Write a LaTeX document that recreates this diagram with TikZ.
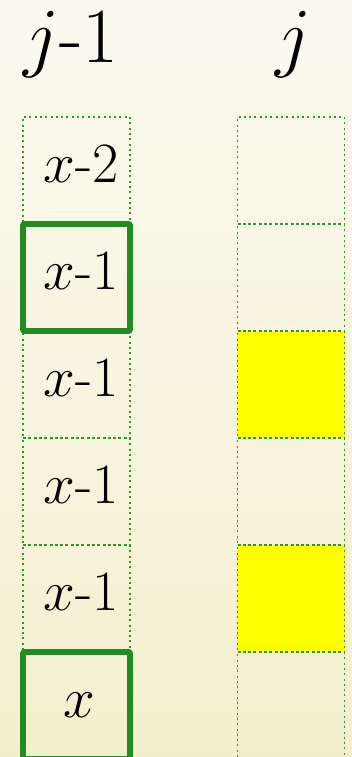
\RequirePackage{fix-cm}
\documentclass[tikz,border=0pt]{standalone}
\begin{document}
\definecolor{bgtop}{RGB}{251,250,240}
\definecolor{bgbot}{RGB}{243,239,206}
\definecolor{gr}{RGB}{34,139,34}
\definecolor{dotgr}{RGB}{45,150,45}
\definecolor{yel}{RGB}{255,255,0}
\begin{tikzpicture}[x=1pt,y=-1pt,
  cell/.style={draw=dotgr, line width=1.2pt, dash pattern=on 2pt off 3.3pt,
    minimum width=107pt, minimum height=107pt, inner sep=0pt, outer sep=0pt},
  lab/.style={anchor=base, inner sep=0pt, font=\fontsize{57}{57}\selectfont},
  hot/.style={draw=gr, line width=5.8pt, line join=round, rounded corners=1pt},
  hilite/.style={fill=yel},
  head/.style={anchor=base, inner sep=0pt, font=\fontsize{78}{78}\selectfont}]
\useasboundingbox (0,0) rectangle (352,757);
\shade[top color=bgtop, bottom color=bgbot] (0,0) rectangle (352,757);
% headers
\node[head] (hL) at (71,63) {$j$-1};
\node[head] (hR) at (293,63) {$j$};
% right column highlight fills
\fill[hilite] (237.5,331) rectangle (344.5,438);
\fill[hilite] (237.5,545) rectangle (344.5,652);
% left column
\node[cell] (L0) at (76.5,170.5) {};
\node[cell] (L1) at (76.5,277.5) {};
\node[cell] (L2) at (76.5,384.5) {};
\node[cell] (L3) at (76.5,491.5) {};
\node[cell] (L4) at (76.5,598.5) {};
\node[cell] (L5) at (76.5,705.5) {};
% right column
\node[cell] (R0) at (291,170.5) {};
\node[cell] (R1) at (291,277.5) {};
\node[cell] (R2) at (291,384.5) {};
\node[cell] (R3) at (291,491.5) {};
\node[cell] (R4) at (291,598.5) {};
\node[cell] (R5) at (291,705.5) {};
% highlighted cells
\draw[hot] (L1.north west) rectangle (L1.south east);
\draw[hot] (L5.north west) rectangle (L5.south east);
% cell labels
\node[lab] (t0) at (81,182.7) {$x$-2};
\node[lab] (t1) at (81,289.7) {$x$-1};
\node[lab] (t2) at (81,396.7) {$x$-1};
\node[lab] (t3) at (81,503.7) {$x$-1};
\node[lab] (t4) at (81,610.7) {$x$-1};
\node[lab] (t5) at (79,717.7) {$x$};
\end{tikzpicture}
\end{document}
